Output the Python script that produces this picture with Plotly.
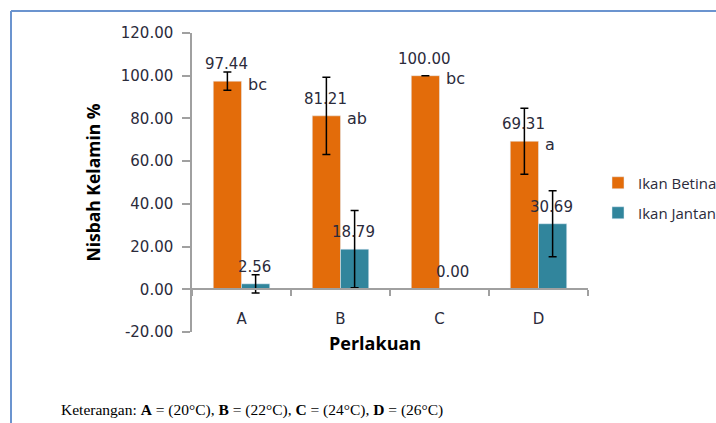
import plotly.graph_objects as go

# ---- data ----
categories = ["A", "B", "C", "D"]
betina = [97.44, 81.21, 100.00, 69.31]
jantan = [2.56, 18.79, 0.00, 30.69]
err = [4.3, 18.1, 0.0, 15.4]
letters = ["bc", "ab", "bc", "a"]
y_ticks = [-20, 0, 20, 40, 60, 80, 100, 120]
y_tick_labels = [f"{v:.2f}" for v in y_ticks]

ORANGE = "#E36C0A"
TEAL = "#31859C"
TXT = "#2b2b3b"
AXC = "#a0a0a0"
NUMFONT = "DejaVu Sans"

# layout geometry (pixels)
W, H = 716, 423
ML, MR, MT, MB = 192, 128, 33, 91
PW = W - ML - MR
PH = H - MT - MB
YMIN, YMAX = -20, 120


def px_x(p):
    return (p - ML) / PW


def px_y(p):
    return (H - MB - p) / PH


fig = go.Figure()
fig.add_trace(go.Bar(
    x=categories, y=betina, name="Ikan Betina", marker_color=ORANGE,
    error_y=dict(type="data", array=err, visible=True, color="black", thickness=1.5, width=4),
    legend="legend",
))
fig.add_trace(go.Bar(
    x=categories, y=jantan, name="Ikan Jantan", marker_color=TEAL,
    error_y=dict(type="data", array=err, visible=True, color="black", thickness=1.5, width=4),
    legend="legend2",
))

annotations = []
for c, v in zip(categories, betina):
    annotations.append(dict(x=c, y=v, xref="x", yref="y", text=f"{v:.2f}", showarrow=False,
                            xshift=-15, yshift=17, font=dict(family=NUMFONT, size=15, color=TXT)))
for c, v in zip(categories, jantan):
    annotations.append(dict(x=c, y=v, xref="x", yref="y", text=f"{v:.2f}", showarrow=False,
                            xshift=13, yshift=17, font=dict(family=NUMFONT, size=15, color=TXT)))
for c, v, l in zip(categories, betina, letters):
    annotations.append(dict(x=c, y=v, xref="x", yref="y", text=l, showarrow=False,
                            xanchor="left", xshift=4, yshift=-3,
                            font=dict(family=NUMFONT, size=16, color=TXT)))

# x-axis title
annotations.append(dict(x=px_x(375), y=px_y(343), xref="paper", yref="paper", text="<b>Perlakuan</b>",
                        showarrow=False, xanchor="center", yanchor="middle",
                        font=dict(family="Open Sans", size=18, color="black")))
# footer
annotations.append(dict(x=px_x(59), y=px_y(410), xref="paper", yref="paper",
                        text="Keterangan: <b>A</b> = (20°C), <b>B</b> = (22°C), <b>C</b> = (24°C), <b>D</b> = (26°C)",
                        showarrow=False, xanchor="left", yanchor="middle",
                        font=dict(family="Liberation Serif", size=15.5, color="black")))

shapes = [
    dict(type="line", xref="paper", yref="paper", x0=px_x(11), x1=px_x(730), y0=px_y(11), y1=px_y(11),
         line=dict(color="#6b94cf", width=2)),
    dict(type="line", xref="paper", yref="paper", x0=px_x(11), x1=px_x(11), y0=px_y(11), y1=px_y(440),
         line=dict(color="#6b94cf", width=2)),
]

fig.update_layout(
    width=W, height=H,
    margin=dict(l=ML, r=MR, t=MT, b=MB, autoexpand=False),
    paper_bgcolor="white", plot_bgcolor="white",
    barmode="group", bargap=0.43, bargroupgap=0,
    showlegend=True,
    legend=dict(x=px_x(598), y=px_y(183), xanchor="left", yanchor="middle",
                font=dict(family="Open Sans", size=15, color=TXT), bgcolor="rgba(0,0,0,0)"),
    legend2=dict(x=px_x(598), y=px_y(213), xanchor="left", yanchor="middle",
                 font=dict(family="Open Sans", size=15, color=TXT), bgcolor="rgba(0,0,0,0)"),
    xaxis=dict(
        anchor="free", position=(0 - YMIN) / (YMAX - YMIN),
        showline=True, linecolor=AXC, linewidth=1.5,
        ticks="outside", tickson="boundaries", ticklen=6, tickcolor=AXC, tickwidth=1.5,
        ticklabelstandoff=16,
        tickfont=dict(family=NUMFONT, size=15, color=TXT),
        showgrid=False, zeroline=False,
    ),
    yaxis=dict(
        range=[YMIN, YMAX], tickvals=y_ticks, ticktext=y_tick_labels,
        showline=True, linecolor=AXC, linewidth=1.5,
        ticks="outside", ticklen=8, tickcolor=AXC, tickwidth=1.5,
        ticklabelstandoff=6,
        tickfont=dict(family=NUMFONT, size=15, color=TXT),
        showgrid=False, zeroline=False,
        title=dict(text="<b>Nisbah Kelamin %</b>", standoff=16,
                   font=dict(family="Open Sans", size=17.5, color="black")),
    ),
    annotations=annotations,
    shapes=shapes,
)

fig.write_html("out.html", config={"displayModeBar": False},
               post_script="document.body.style.margin='0px';document.body.style.overflow='hidden';")
